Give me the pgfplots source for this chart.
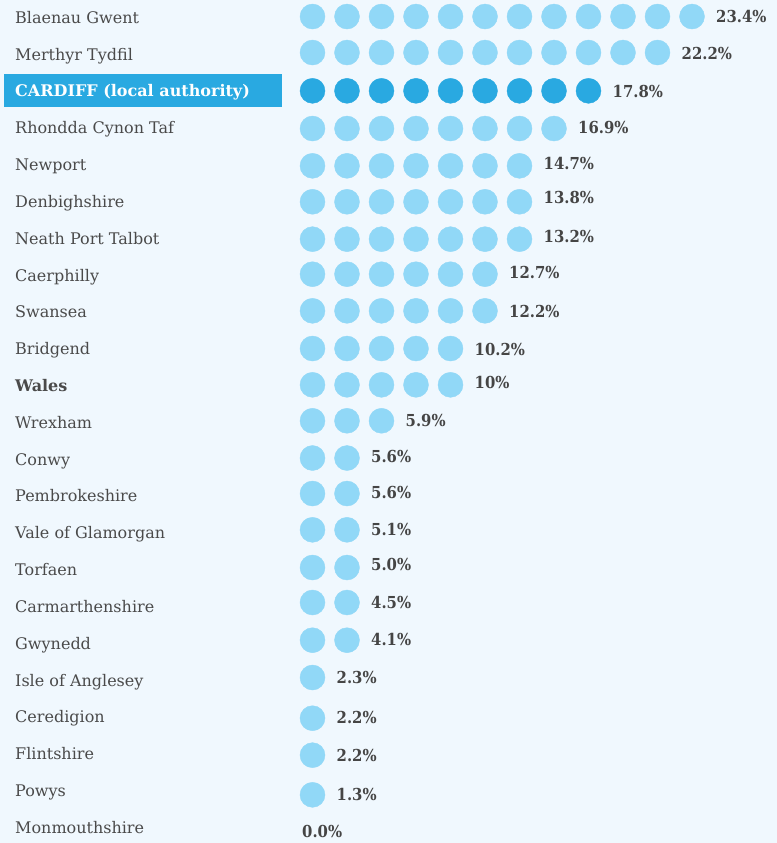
\documentclass[border=0pt]{standalone}
\usepackage{pgfplots}
\pgfplotsset{compat=1.18}
\usepackage{fontspec}
\setmainfont{DejaVu Serif}
\newfontfamily\valfont{DejaVu Serif Condensed}
\definecolor{bgc}{HTML}{F0F8FE}
\definecolor{lightdot}{HTML}{91D8F7}
\definecolor{darkdot}{HTML}{29A9E1}
\definecolor{txt}{HTML}{4A4A4A}
\definecolor{valtxt}{HTML}{454545}
\begin{document}
\begin{tikzpicture}
\fill[bgc] (0,0) rectangle (777bp,843bp);
\begin{axis}[
  at={(0,0)}, anchor=south west,
  scale only axis, width=777bp, height=843bp,
  xmin=-9.058, xmax=13.464, ymin=-0.4753, ymax=22.420, y dir=reverse,
  hide axis, clip=false]
% Cardiff highlight box
\fill[darkdot] (axis cs:-8.942,1.5345) rectangle (axis cs:-0.884,2.4307);
% light dots (one dot per 2 percentage points, as drawn)
\addplot[lightdot, only marks, mark=*, mark size=12.5bp, mark options={solid, draw=lightdot, fill=lightdot}] coordinates {
(0,-0.027)(1,-0.027)(2,-0.027)(3,-0.027)(4,-0.027)(5,-0.027)(6,-0.027)(7,-0.027)(8,-0.027)(9,-0.027)(10,-0.027)(11,-0.027)
(0,0.951)(1,0.951)(2,0.951)(3,0.951)(4,0.951)(5,0.951)(6,0.951)(7,0.951)(8,0.951)(9,0.951)(10,0.951)
(0,3.015)(1,3.015)(2,3.015)(3,3.015)(4,3.015)(5,3.015)(6,3.015)(7,3.015)
(0,4.028)(1,4.028)(2,4.028)(3,4.028)(4,4.028)(5,4.028)(6,4.028)
(0,5.005)(1,5.005)(2,5.005)(3,5.005)(4,5.005)(5,5.005)(6,5.005)
(0,6.021)(1,6.021)(2,6.021)(3,6.021)(4,6.021)(5,6.021)(6,6.021)
(0,6.972)(1,6.972)(2,6.972)(3,6.972)(4,6.972)(5,6.972)
(0,7.966)(1,7.966)(2,7.966)(3,7.966)(4,7.966)(5,7.966)
(0,8.990)(1,8.990)(2,8.990)(3,8.990)(4,8.990)
(0,9.976)(1,9.976)(2,9.976)(3,9.976)(4,9.976)
(0,10.953)(1,10.953)(2,10.953)
(0,11.964)(1,11.964)
(0,12.928)(1,12.928)
(0,13.914)(1,13.914)
(0,14.938)(1,14.938)
(0,15.888)(1,15.888)
(0,16.912)(1,16.912)
(0,17.925)
(0,19.031)
(0,20.035)
(0,21.111)
};
% dark dots (Cardiff)
\addplot[darkdot, only marks, mark=*, mark size=12.5bp, mark options={solid, draw=darkdot, fill=darkdot}] coordinates {
(0,1.991)(1,1.991)(2,1.991)(3,1.991)(4,1.991)(5,1.991)(6,1.991)(7,1.991)(8,1.991)
};
% value labels
\addplot[draw=none, mark=none, nodes near coords, point meta=explicit symbolic,
  nodes near coords style={anchor=base west, yshift=-6bp, inner sep=0pt, text=valtxt, font=\valfont\bfseries\fontsize{16.5bp}{18bp}\selectfont}]
  table[meta=label] {
x y label
11.696 -0.033 23.4\%
10.696 0.983 22.2\%
8.696 2.023 17.8\%
7.696 3.001 16.9\%
6.696 3.960 14.7\%
6.696 4.897 13.8\%
6.696 5.942 13.2\%
5.696 6.917 12.7\%
5.696 7.990 12.2\%
4.696 9.022 10.2\%
4.696 9.900 10\%
2.696 10.940 5.9\%
1.696 11.936 5.6\%
1.696 12.892 5.6\%
1.696 13.911 5.1\%
1.696 14.848 5.0\%
1.696 15.880 4.5\%
1.696 16.893 4.1\%
0.696 17.925 2.3\%
0.696 19.019 2.2\%
0.696 20.044 2.2\%
0.696 21.103 1.3\%
-0.304 22.113 0.0\%
};
% row labels
\begin{scope}[every node/.style={anchor=base west, yshift=-5.8bp, inner sep=0pt, text=txt, font=\fontsize{16bp}{18bp}\selectfont}]
\node at (axis cs:-8.623,0) {Blaenau Gwent};
\node at (axis cs:-8.623,1) {Merthyr Tydfil};
\node[text=white, font=\bfseries\fontsize{16bp}{18bp}\selectfont] at (axis cs:-8.623,2) {CARDIFF (local authority)};
\node at (axis cs:-8.623,3) {Rhondda Cynon Taf};
\node at (axis cs:-8.623,4) {Newport};
\node at (axis cs:-8.623,5) {Denbighshire};
\node at (axis cs:-8.623,6) {Neath Port Talbot};
\node at (axis cs:-8.623,7) {Caerphilly};
\node at (axis cs:-8.623,8) {Swansea};
\node at (axis cs:-8.623,9) {Bridgend};
\node[font=\bfseries\fontsize{16bp}{18bp}\selectfont] at (axis cs:-8.623,10) {Wales};
\node at (axis cs:-8.623,11) {Wrexham};
\node at (axis cs:-8.623,12) {Conwy};
\node at (axis cs:-8.623,13) {Pembrokeshire};
\node at (axis cs:-8.623,14) {Vale of Glamorgan};
\node at (axis cs:-8.623,15) {Torfaen};
\node at (axis cs:-8.623,16) {Carmarthenshire};
\node at (axis cs:-8.623,17) {Gwynedd};
\node at (axis cs:-8.623,18) {Isle of Anglesey};
\node at (axis cs:-8.623,19) {Ceredigion};
\node at (axis cs:-8.623,20) {Flintshire};
\node at (axis cs:-8.623,21) {Powys};
\node at (axis cs:-8.623,22) {Monmouthshire};
\end{scope}
\end{axis}
\end{tikzpicture}
\end{document}
